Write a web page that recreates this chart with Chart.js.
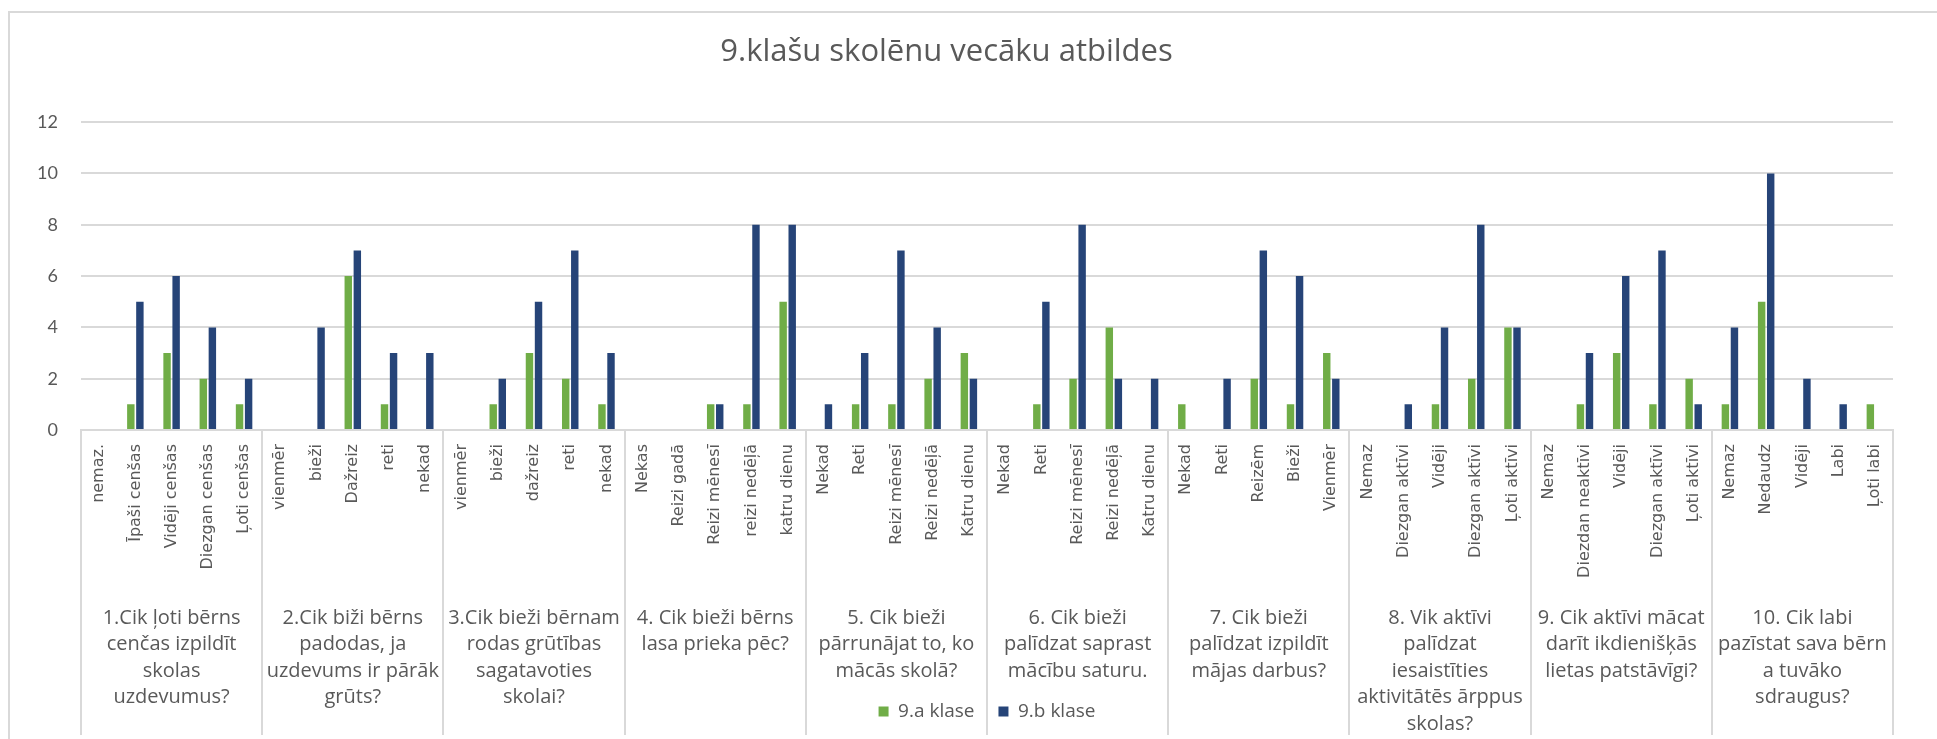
<!DOCTYPE html>
<html>
<head>
<meta charset="utf-8">
<title>9.klašu skolēnu vecāku atbildes</title>
<script src="https://cdn.jsdelivr.net/npm/chart.js@4.4.1/dist/chart.umd.min.js"></script>
<style>
  html, body { margin: 0; padding: 0; background: #fff; }
  #wrap { position: relative; width: 1937px; height: 739px; overflow: hidden; }
  #frame { position: absolute; left: 8px; top: 11px; width: 2000px; height: 800px;
           border: 2px solid #d9d9d9; box-sizing: border-box; pointer-events: none; }
</style>
</head>
<body>
<div id="wrap">
  <canvas id="myChart" width="1937" height="739"></canvas>
  <div id="frame"></div>
</div>
<script>
// jautājumi (grupas)
const jautajumi = [
  ['1.Cik ļoti bērns', 'cenčas izpildīt', 'skolas', 'uzdevumus?'],
  ['2.Cik biži bērns', 'padodas, ja', 'uzdevums ir pārāk', 'grūts?'],
  ['3.Cik bieži bērnam', 'rodas grūtības', 'sagatavoties', 'skolai?'],
  ['4. Cik bieži bērns', 'lasa prieka pēc?'],
  ['5. Cik bieži', 'pārrunājat to, ko', 'mācās skolā?'],
  ['6. Cik bieži', 'palīdzat saprast', 'mācību saturu.'],
  ['7. Cik bieži', 'palīdzat izpildīt', 'mājas darbus?'],
  ['8. Vik aktīvi', 'palīdzat', 'iesaistīties', 'aktivitātēs ārppus', 'skolas?'],
  ['9. Cik aktīvi mācat', 'darīt ikdienišķās', 'lietas patstāvīgi?'],
  ['10. Cik labi', 'pazīstat sava bērn', 'a tuvāko', 'sdraugus?']
];

// atbilžu varianti (5 katram jautājumam)
const atbildes = [
  'nemaz.', 'Īpaši cenšas', 'Vidēji cenšas', 'Diezgan cenšas', 'Ļoti cenšas',
  'vienmēr', 'bieži', 'Dažreiz', 'reti', 'nekad',
  'vienmēr', 'bieži', 'dažreiz', 'reti', 'nekad',
  'Nekas', 'Reizi gadā', 'Reizi mēnesī', 'reizi nedēļā', 'katru dienu',
  'Nekad', 'Reti', 'Reizi mēnesī', 'Reizi nedēļā', 'Katru dienu',
  'Nekad', 'Reti', 'Reizi mēnesī', 'Reizi nedēļā', 'Katru dienu',
  'Nekad', 'Reti', 'Reizēm', 'Bieži', 'Vienmēr',
  'Nemaz', 'Diezgan aktīvi', 'Vidēji', 'Diezgan aktīvi', 'Ļoti aktīvi',
  'Nemaz', 'Diezdan neaktīvi', 'Vidēji', 'Diezgan aktīvi', 'Ļoti aktīvi',
  'Nemaz', 'Nedaudz', 'Vidēji', 'Labi', 'Ļoti labi'
];

const klase9a = [
  0, 1, 3, 2, 1,
  0, 0, 6, 1, 0,
  0, 1, 3, 2, 1,
  0, 0, 1, 1, 5,
  0, 1, 1, 2, 3,
  0, 1, 2, 4, 0,
  1, 0, 2, 1, 3,
  0, 0, 1, 2, 4,
  0, 1, 3, 1, 2,
  1, 5, 0, 0, 1
];

const klase9b = [
  0, 5, 6, 4, 2,
  0, 4, 7, 3, 3,
  0, 2, 5, 7, 3,
  0, 0, 1, 8, 8,
  1, 3, 7, 4, 2,
  0, 5, 8, 2, 2,
  0, 2, 7, 6, 2,
  0, 1, 4, 8, 4,
  0, 3, 6, 7, 1,
  4, 10, 2, 1, 0
];

const yMin = 0, yMax = 12, ySolis = 2;

const pelekais = '#595959';
const rezgis = '#d9d9d9';

// līnijas starp jautājumu grupām
const atdalitajs = (c) => (c.index === undefined || c.index % 5 === 0) ? rezgis : 'rgba(0,0,0,0)';

const config = {
  type: 'bar',
  data: {
    labels: atbildes,
    datasets: [
      { label: '9.a klase', data: klase9a, backgroundColor: '#70ad47', xAxisID: 'x',
        categoryPercentage: 0.5, barPercentage: 0.82 },
      { label: '9.b klase', data: klase9b, backgroundColor: '#264478', xAxisID: 'x',
        categoryPercentage: 0.5, barPercentage: 0.82 }
    ]
  },
  options: {
    responsive: false,
    animation: false,
    devicePixelRatio: 1,
    layout: { padding: { left: 0, right: 44, top: 0, bottom: 8 } },
    plugins: {
      title: {
        display: true,
        text: '9.klašu skolēnu vecāku atbildes',
        color: pelekais,
        font: { family: 'Open Sans', size: 31, weight: 'normal' },
        padding: { top: 34, bottom: 51 }
      },
      legend: {
        position: 'bottom',
        fullSize: false,
        labels: {
          color: pelekais,
          font: { family: 'Open Sans', size: 19 },
          boxWidth: 10, boxHeight: 10, padding: 24
        }
      },
      tooltip: { enabled: false }
    },
    scales: {
      x: {
        position: 'bottom',
        weight: 0,
        offset: true,
        grid: {
          display: true, offset: true, drawOnChartArea: false, drawTicks: true,
          tickLength: 305, lineWidth: 2, color: atdalitajs, tickColor: atdalitajs
        },
        border: { display: true, color: rezgis, width: 2 },
        ticks: {
          autoSkip: false, minRotation: 90, maxRotation: 90, padding: -291,
          color: pelekais, font: { family: 'DejaVu Sans', size: 16 }
        },
        afterFit: (s) => { s.height = 175; }
      },
      x2: {
        type: 'category',
        labels: jautajumi,
        position: 'bottom',
        weight: 1,
        offset: true,
        grid: { display: false, drawTicks: false },
        border: { display: false },
        ticks: {
          autoSkip: false, minRotation: 0, maxRotation: 0, padding: 0,
          color: pelekais, font: { family: 'Open Sans', size: 20, lineHeight: 1.32 }
        },
        afterFit: (s) => {
          s.height = 73;
          s._computeLabelArea = () => null; // neapgriezt garos jautājumus
        }
      },
      y: {
        min: yMin, max: yMax,
        ticks: { stepSize: ySolis, padding: 23, color: pelekais, font: { family: 'Lato', size: 18 } },
        grid: { color: rezgis, lineWidth: 2, drawTicks: false },
        border: { display: false },
        afterFit: (s) => { s.width = 81; }
      }
    }
  }
};

const myChart = new Chart(document.getElementById('myChart'), config);
</script>
</body>
</html>
